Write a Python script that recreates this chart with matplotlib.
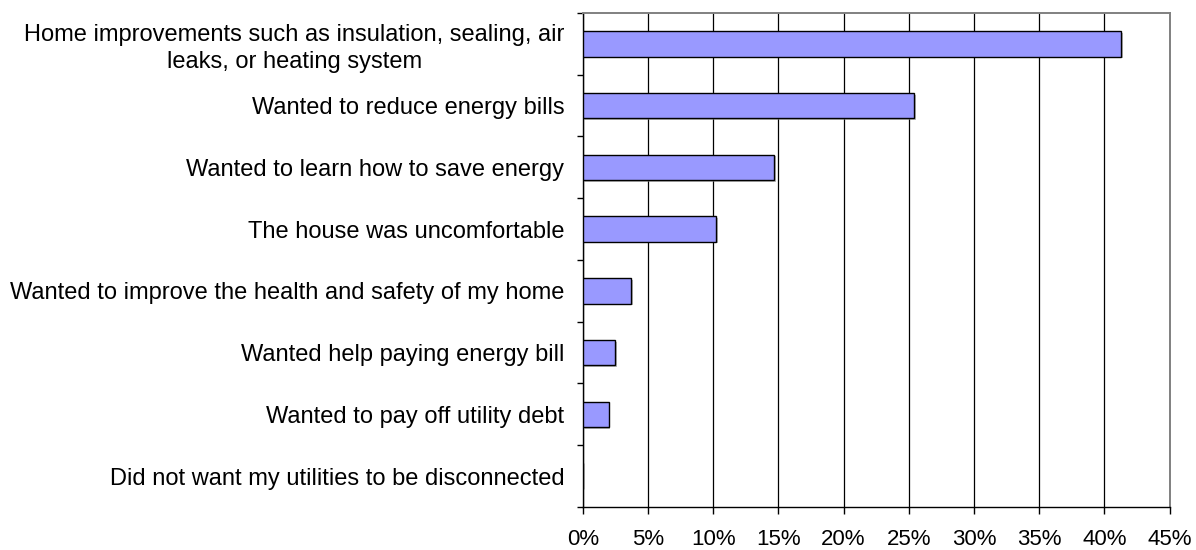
import numpy as np
import matplotlib
matplotlib.use('Agg')
import matplotlib.pyplot as plt
import matplotlib.patheffects as pe
from matplotlib.ticker import FixedLocator, PercentFormatter

plt.rcParams['font.family'] = ['Liberation Sans', 'DejaVu Sans']

# reasons, listed top to bottom
reasons = [
    'Home improvements such as insulation, sealing, air\nleaks, or heating system',
    'Wanted to reduce energy bills',
    'Wanted to learn how to save energy',
    'The house was uncomfortable',
    'Wanted to improve the health and safety of my home',
    'Wanted help paying energy bill',
    'Wanted to pay off utility debt',
    'Did not want my utilities to be disconnected',
]
shares = [41.3, 25.4, 14.7, 10.25, 3.7, 2.5, 2.0, 0.0]   # percent
x_ticks = [0, 5, 10, 15, 20, 25, 30, 35, 40, 45]

fig = plt.figure(figsize=(11.96, 5.5), dpi=100)
ax = fig.add_axes([0.4872, 0.0782, 0.4907, 0.8982])

y = np.arange(len(reasons))
bars = ax.barh(y, shares, height=0.41, color='#9999FF', edgecolor='black',
               linewidth=1.0, zorder=3)
for b in bars:
    b.set_path_effects([pe.SimplePatchShadow(offset=(1.2, -1.2), shadow_rgbFace='#888888', alpha=0.6),
                        pe.Normal()])

ax.set_xlim(0, 45)
ax.set_ylim(len(reasons) - 0.5, -0.5)

# vertical gridlines
ax.xaxis.set_major_locator(FixedLocator(x_ticks))
ax.xaxis.set_major_formatter(PercentFormatter(decimals=0))
ax.grid(axis='x', color='black', linewidth=0.9, zorder=0)
ax.set_axisbelow(True)

# category labels without ticks, small ticks between categories
ax.set_yticks(y)
ax.set_yticklabels(reasons, fontsize=17, ha='center', multialignment='center',
                   linespacing=1.25)
ax.tick_params(axis='y', which='major', length=0, pad=0)
ax.yaxis.set_minor_locator(FixedLocator(np.arange(-0.5, len(reasons), 1.0)))
ax.tick_params(axis='y', which='minor', length=4, width=1.0, color='black', direction='out')

ax.tick_params(axis='x', which='major', length=5, width=1.0, color='black',
               direction='out', labelsize=16, pad=11)

# right-align single-line labels against the axis, centre the wrapped one
fig.canvas.draw()
renderer = fig.canvas.get_renderer()
ax_w = ax.get_window_extent(renderer).width
for lbl in ax.get_yticklabels():
    bb = lbl.get_window_extent(renderer)
    lbl.set_horizontalalignment('center')
    lbl.set_x(-0.031 - (bb.width / ax_w) / 2)

for side in ['left', 'bottom']:
    ax.spines[side].set_color('black')
    ax.spines[side].set_linewidth(1.0)
for side in ['top', 'right']:
    ax.spines[side].set_color('#808080')
    ax.spines[side].set_linewidth(1.4)

fig.savefig('out.png', dpi=100, facecolor='white')
